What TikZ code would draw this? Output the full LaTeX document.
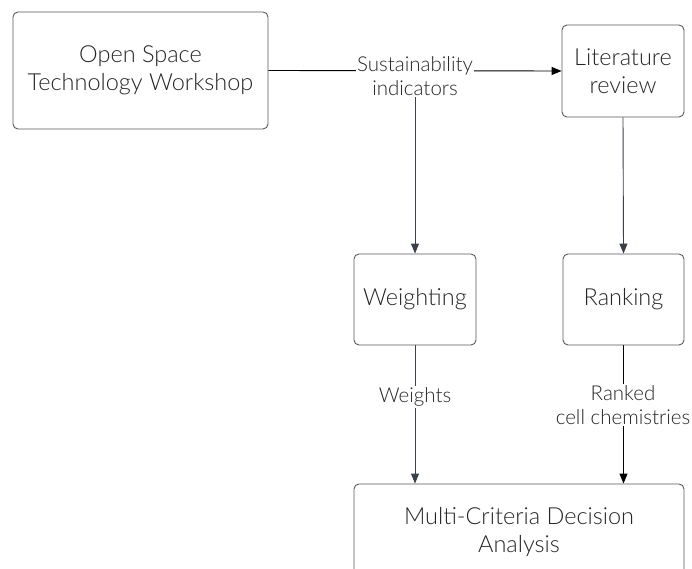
\documentclass[tikz,border=0pt]{standalone}
\usepackage{fontspec}
\setmainfont{Lato}[UprightFont={* Light}]
\usetikzlibrary{arrows.meta}
\definecolor{boxline}{HTML}{5A5A5A}
\definecolor{txt}{HTML}{262626}
\definecolor{darkarrow}{HTML}{3A414B}
\tikzset{
  box/.style={draw=boxline, line width=0.9pt, rounded corners=5pt, align=center,
    text=txt, font=\fontsize{23.5}{28}\selectfont, inner sep=0pt},
  lbl/.style={fill=white, align=center, text=txt, font=\fontsize{20.5}{24.5}\selectfont, inner sep=1.5pt},
  blackarrow/.style={draw=black, line width=0.9pt, -{Triangle[length=10pt,width=8pt]}},
  grayarrow/.style={draw=darkarrow, line width=0.9pt, -{Triangle[length=10pt,width=8pt]}},
}
\begin{document}
\begin{tikzpicture}[x=1pt,y=-1pt]
\clip (0,0) rectangle (692,569);
\fill[white] (0,0) rectangle (692,569);
\node[box, minimum width=255pt, minimum height=117pt] (ost) at (140.5,70.5) {Open Space\\Technology Workshop};
\node[box, minimum width=122pt, minimum height=92pt] (lit) at (623,71) {Literature\\review};
\node[box, minimum width=122pt, minimum height=91pt] (wei) at (415,299.5) {Weighting};
\node[box, minimum width=121pt, minimum height=91pt] (ran) at (623.5,299.5) {Ranking};
\node[box, minimum width=330pt, minimum height=96pt] (mcda) at (519,532) {Multi-Criteria Decision\\Analysis};

\draw[blackarrow] (ost.east) -- (lit.west);
\node[lbl] (sus) at (415,76) {Sustainability\\indicators};
\draw[grayarrow] (sus.south) -- (wei.north);
\draw[grayarrow] (lit.south) -- (ran.north);
\draw[grayarrow] (wei.south) -- (wei.south |- mcda.north);
\node[lbl] (wts) at (415,397) {Weights};
\draw[blackarrow] (ran.south) -- (ran.south |- mcda.north);
\node[lbl] (rcc) at (623,405) {Ranked\\cell chemistries};
\end{tikzpicture}
\end{document}
